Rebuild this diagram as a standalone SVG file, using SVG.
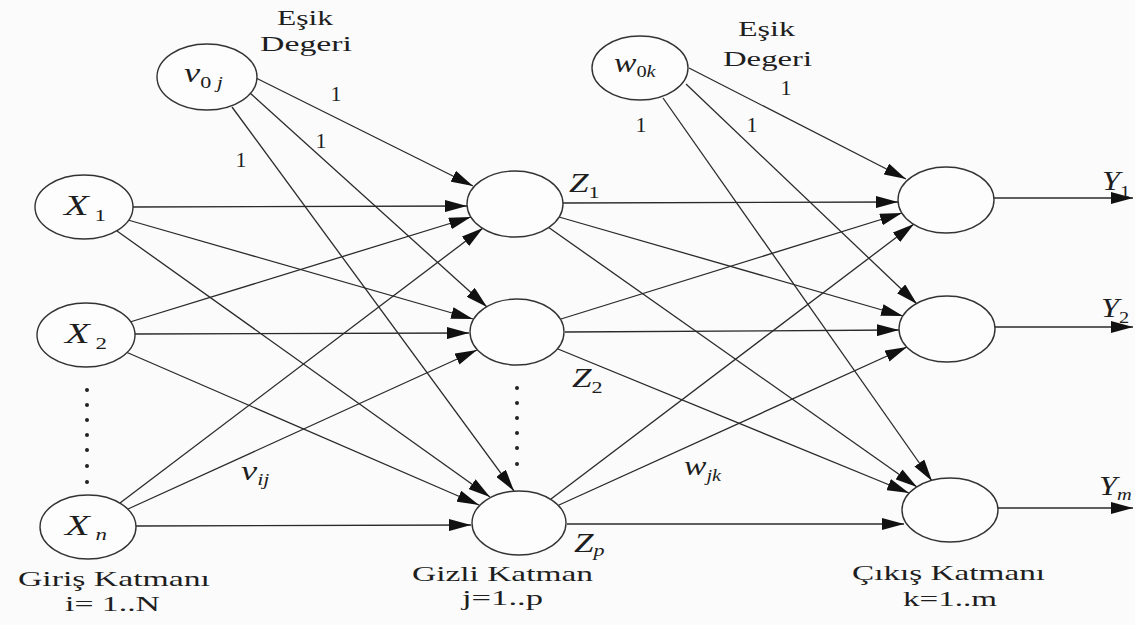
<svg xmlns="http://www.w3.org/2000/svg" width="1135" height="625" viewBox="0 0 1135 625" font-family="'Liberation Serif', 'DejaVu Serif', serif">
<style>
.bg{fill:#fbfbfb}
.nd{fill:#fdfdfd;stroke:#333;stroke-width:1.4}
.cn line{stroke:#2a2a2a;stroke-width:1.3;marker-end:url(#ah)}
text{font-family:'Liberation Serif','DejaVu Serif',serif;fill:#1e1e1e}
.it{font-style:italic}
.big{font-size:30px}
.mid{font-size:27px}
.sm{font-size:28px}
.sub{font-size:17px}
.cap{font-size:22px}
.one{font-size:22px}
.dot{fill:#222}
</style>
<defs>
<marker id="ah" markerUnits="userSpaceOnUse" markerWidth="22" markerHeight="12" refX="22" refY="6" orient="auto">
<path d="M0,0 L22,6 L0,12 z" fill="#111"/>
</marker>
</defs>
<rect class="bg" x="0" y="0" width="1135" height="625"/>

<g id="connectors" class="cn">
<line x1="132" y1="207" x2="467" y2="206"/>
<line x1="128" y1="220" x2="473" y2="319"/>
<line x1="117" y1="231" x2="490" y2="497"/>
<line x1="130" y1="322" x2="471" y2="217"/>
<line x1="134" y1="334" x2="469" y2="333"/>
<line x1="126" y1="352" x2="479" y2="505"/>
<line x1="120" y1="503" x2="483" y2="228"/>
<line x1="128" y1="509" x2="477" y2="350"/>
<line x1="136" y1="526" x2="471" y2="525"/>
<line x1="256" y1="78" x2="473" y2="186"/>
<line x1="250" y1="93" x2="487" y2="307"/>
<line x1="232" y1="107" x2="514" y2="491"/>
<line x1="563" y1="203" x2="898" y2="202"/>
<line x1="559" y1="217" x2="903" y2="316"/>
<line x1="548" y1="227" x2="917" y2="487"/>
<line x1="561" y1="319" x2="902" y2="213"/>
<line x1="565" y1="332" x2="899" y2="330"/>
<line x1="558" y1="349" x2="909" y2="493"/>
<line x1="551" y1="499" x2="914" y2="224"/>
<line x1="559" y1="505" x2="907" y2="347"/>
<line x1="567" y1="524" x2="904" y2="524"/>
<line x1="689" y1="68" x2="906" y2="179"/>
<line x1="686" y1="84" x2="917" y2="304"/>
<line x1="663" y1="98" x2="932" y2="481"/>
<line x1="994" y1="198" x2="1133" y2="198"/>
<line x1="995" y1="327" x2="1133" y2="327"/>
<line x1="998" y1="508" x2="1133" y2="508"/>
</g>

<g id="weight-labels">
<text class="one" x="336" y="101" text-anchor="middle">1</text>
<text class="one" x="321" y="148" text-anchor="middle">1</text>
<text class="one" x="241" y="167" text-anchor="middle">1</text>
<text class="one" x="786" y="95" text-anchor="middle">1</text>
<text class="one" x="641" y="132" text-anchor="middle">1</text>
<text class="one" x="752" y="132" text-anchor="middle">1</text>
<text transform="translate(241,480) scale(1.3,1)"><tspan class="it sm">v</tspan><tspan class="it sub" dy="5">ij</tspan></text>
<text transform="translate(684,475) scale(1.2,1)"><tspan class="it sm">w</tspan><tspan class="it sub" dy="6">jk</tspan></text>
</g>

<g id="bias-input">
<ellipse class="nd" cx="207" cy="77" rx="50" ry="33"/>
<text transform="translate(184,82) scale(1.3,1)"><tspan class="it sm">v</tspan><tspan class="sub" dy="6">0</tspan><tspan class="it sub"> j</tspan></text>
<text class="cap" x="277" y="25" textLength="56" lengthAdjust="spacingAndGlyphs">Eşik</text>
<text class="cap" x="260" y="51" textLength="92" lengthAdjust="spacingAndGlyphs">Degeri</text>
</g>

<g id="bias-hidden">
<ellipse class="nd" cx="640" cy="68" rx="48" ry="32"/>
<text transform="translate(614,72) scale(1.2,1)"><tspan class="it sm">w</tspan><tspan class="sub" dy="5">0</tspan><tspan class="it sub">k</tspan></text>
<text class="cap" x="738" y="36" textLength="57" lengthAdjust="spacingAndGlyphs">Eşik</text>
<text class="cap" x="723" y="66" textLength="89" lengthAdjust="spacingAndGlyphs">Degeri</text>
</g>

<g id="input-1">
<ellipse class="nd" cx="84" cy="207" rx="49" ry="32"/>
<text transform="translate(64,215) scale(1.35,1)"><tspan class="it big">X</tspan><tspan class="sub" dy="6"> 1</tspan></text>
</g>
<g id="input-2">
<ellipse class="nd" cx="86" cy="335" rx="49" ry="32"/>
<text transform="translate(65,343) scale(1.35,1)"><tspan class="it big">X</tspan><tspan class="sub" dy="6"> 2</tspan></text>
</g>
<g id="input-dots">
<circle class="dot" cx="87" cy="390" r="2"/>
<circle class="dot" cx="87" cy="405" r="2"/>
<circle class="dot" cx="87" cy="420" r="2"/>
<circle class="dot" cx="87" cy="435" r="2"/>
<circle class="dot" cx="87" cy="450" r="2"/>
<circle class="dot" cx="87" cy="466" r="2"/>
<circle class="dot" cx="87" cy="482" r="2"/>
</g>
<g id="input-n">
<ellipse class="nd" cx="88" cy="527" rx="48" ry="32"/>
<text transform="translate(65,535) scale(1.35,1)"><tspan class="it big">X</tspan><tspan class="it sub" dy="5"> n</tspan></text>
</g>

<g id="hidden-1">
<ellipse class="nd" cx="515" cy="204" rx="48" ry="33"/>
<text transform="translate(569,192) scale(1.3,1)"><tspan class="it mid">Z</tspan><tspan class="sub" dy="6">1</tspan></text>
</g>
<g id="hidden-2">
<ellipse class="nd" cx="517" cy="332" rx="47" ry="33"/>
<text transform="translate(572,387) scale(1.3,1)"><tspan class="it mid">Z</tspan><tspan class="sub" dy="6">2</tspan></text>
</g>
<g id="hidden-dots">
<circle class="dot" cx="517" cy="388" r="2"/>
<circle class="dot" cx="517" cy="403" r="2"/>
<circle class="dot" cx="517" cy="418" r="2"/>
<circle class="dot" cx="517" cy="433" r="2"/>
<circle class="dot" cx="517" cy="448" r="2"/>
<circle class="dot" cx="517" cy="464" r="2"/>
</g>
<g id="hidden-p">
<ellipse class="nd" cx="519" cy="523" rx="47" ry="32"/>
<text transform="translate(574,552) scale(1.3,1)"><tspan class="it mid">Z</tspan><tspan class="it sub" dy="4">p</tspan></text>
</g>

<g id="output-1">
<ellipse class="nd" cx="946" cy="200" rx="48" ry="33"/>
<text transform="translate(1102,190) scale(1.2,1)"><tspan class="it mid">Y</tspan><tspan class="sub" dy="7">1</tspan></text>
</g>
<g id="output-2">
<ellipse class="nd" cx="947" cy="329" rx="48" ry="33"/>
<text transform="translate(1101,317) scale(1.2,1)"><tspan class="it mid">Y</tspan><tspan class="sub" dy="6">2</tspan></text>
</g>
<g id="output-m">
<ellipse class="nd" cx="950" cy="510" rx="48" ry="32"/>
<text transform="translate(1099,495) scale(1.2,1)"><tspan class="it mid">Y</tspan><tspan class="it sub" dy="5">m</tspan></text>
</g>

<g id="layer-labels">
<text class="cap" x="18" y="586" textLength="192" lengthAdjust="spacingAndGlyphs">Giriş Katmanı</text>
<text class="cap" x="65" y="611" textLength="95" lengthAdjust="spacingAndGlyphs">i= 1..N</text>
<text class="cap" x="412" y="581" textLength="181" lengthAdjust="spacingAndGlyphs">Gizli Katman</text>
<text class="cap" x="462" y="605" textLength="81" lengthAdjust="spacingAndGlyphs">j=1..p</text>
<text class="cap" x="852" y="580" textLength="193" lengthAdjust="spacingAndGlyphs">Çıkış Katmanı</text>
<text class="cap" x="903" y="606" textLength="94" lengthAdjust="spacingAndGlyphs">k=1..m</text>
</g>
</svg>
